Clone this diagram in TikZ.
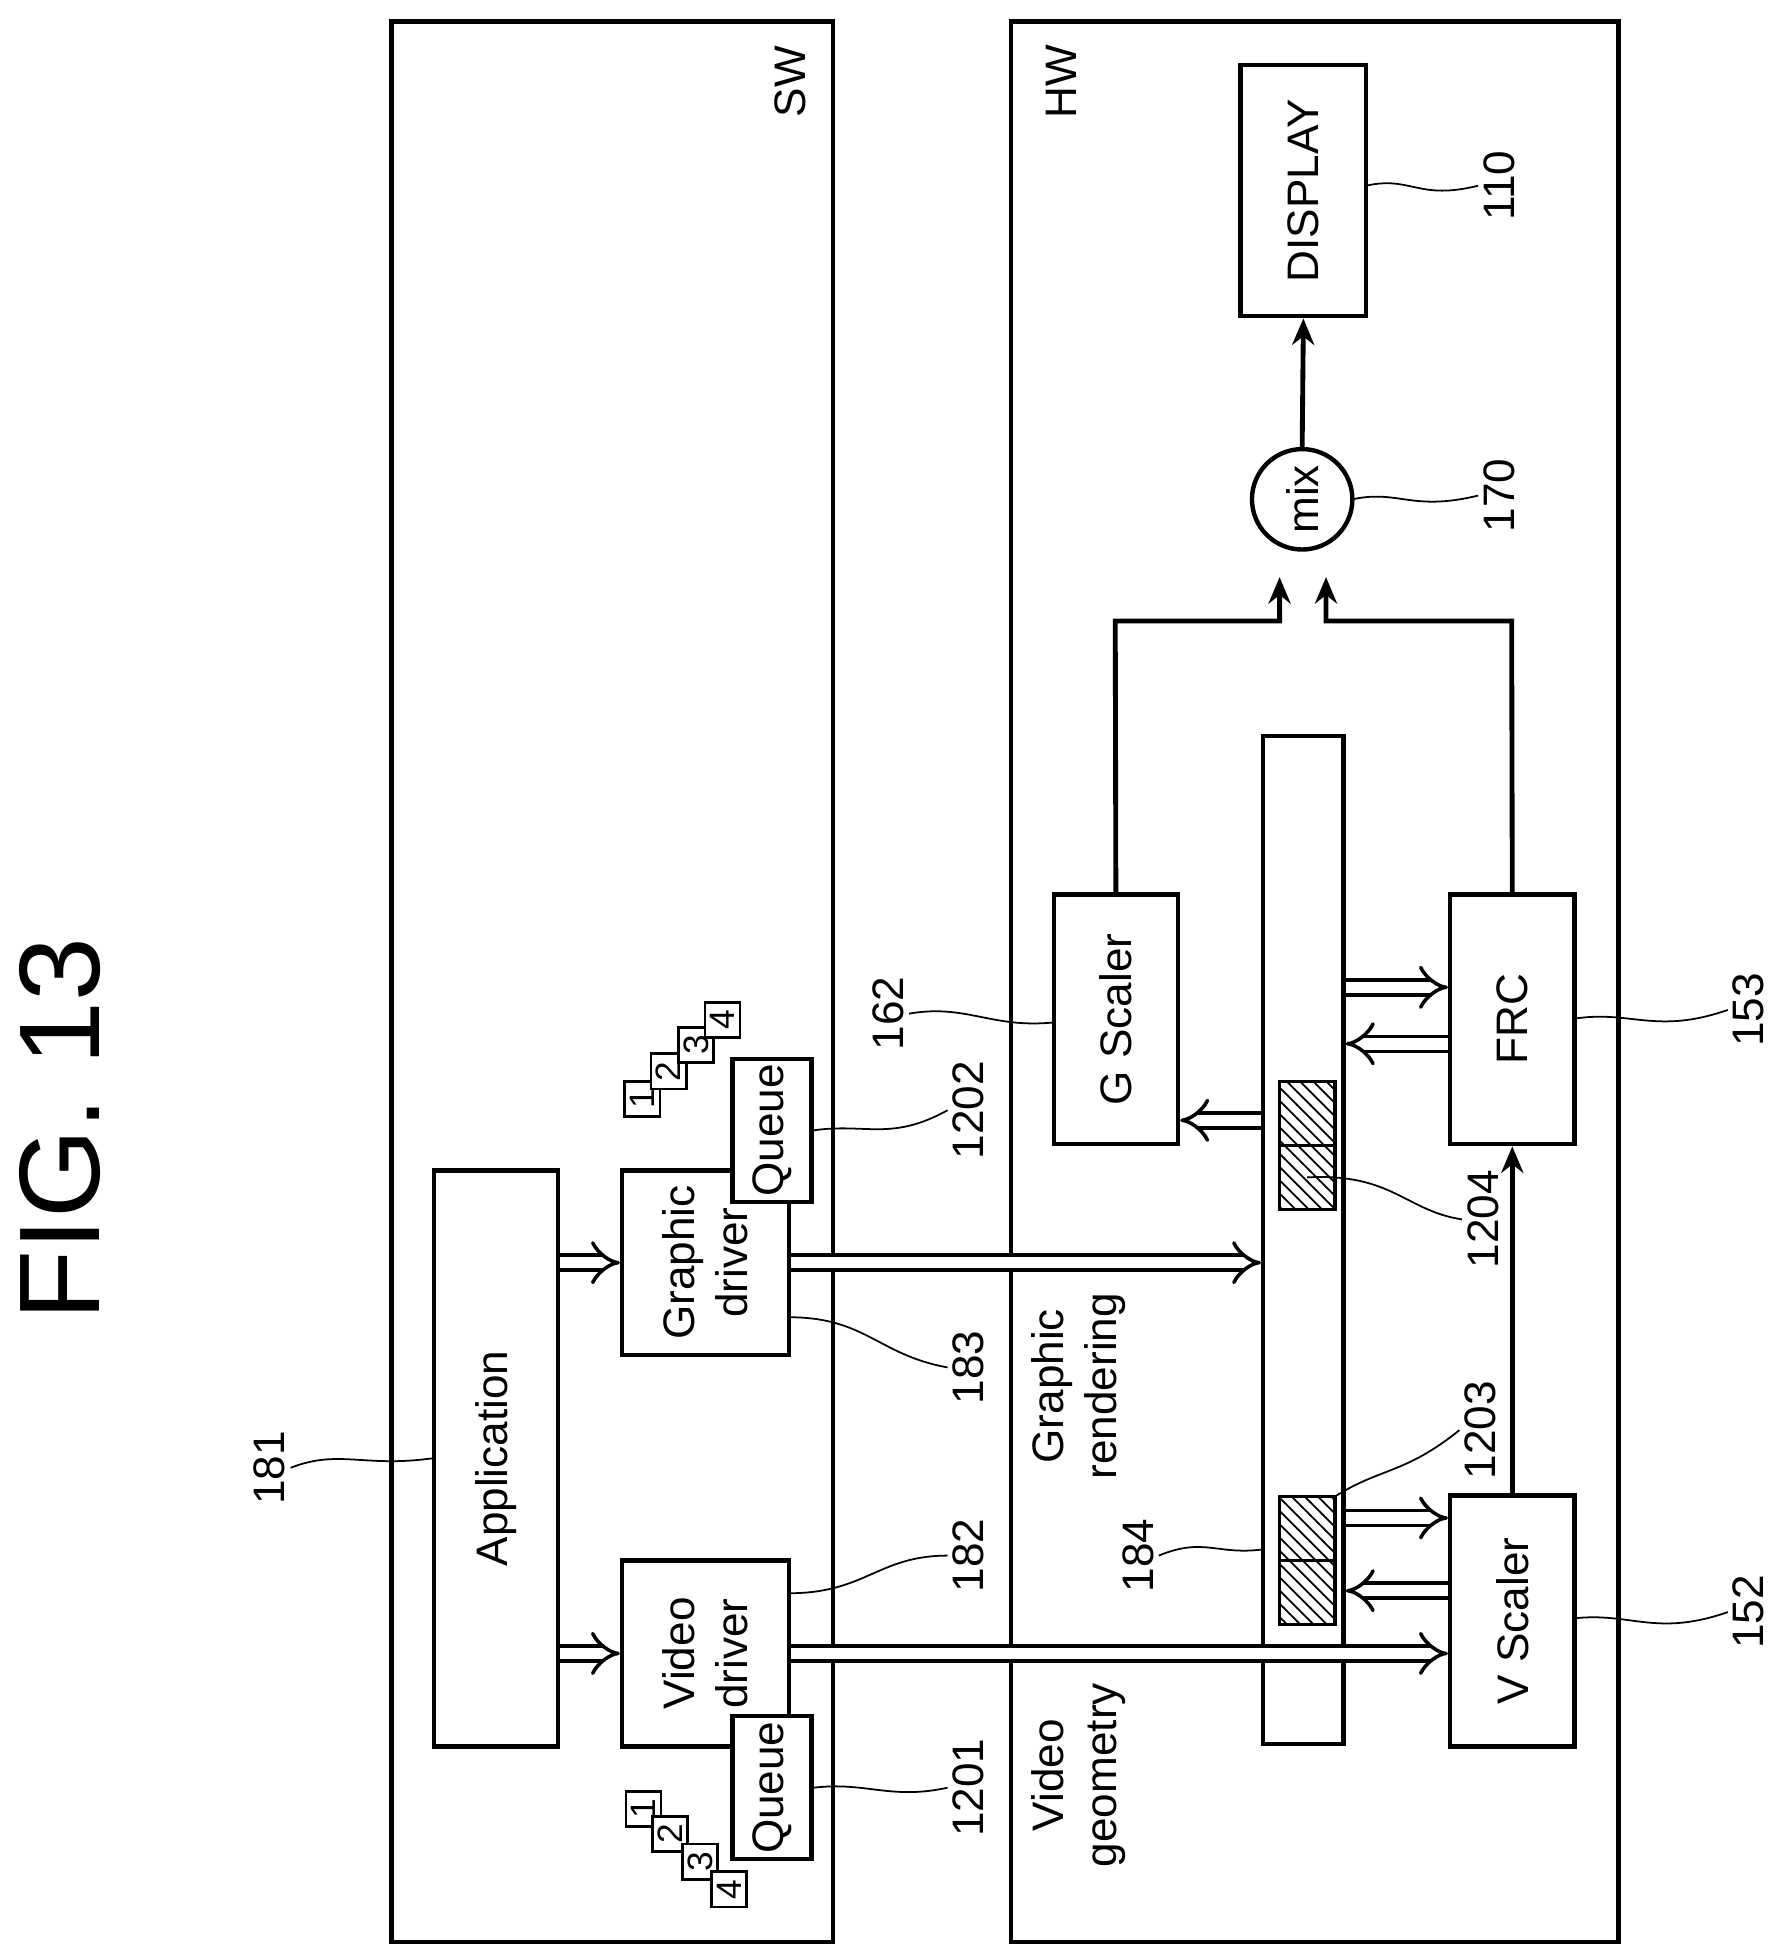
\documentclass[tikz,border=0pt]{standalone}
\usepackage{fontspec}
\setmainfont{Liberation Sans}
\usetikzlibrary{arrows.meta,patterns,calc}
\tikzstyle{box}   = [draw, line width=1pt, fill=white, inner sep=0pt, rotate=90, align=center, font=\fontsize{10}{12}\selectfont]
\tikzstyle{num}   = [draw, line width=0.6pt, fill=white, inner sep=0pt, minimum size=0.28cm, rotate=90, font=\fontsize{8}{9}\selectfont]
\tikzstyle{buf}   = [draw, line width=0.8pt, pattern=north west lines, minimum width=0.51cm, minimum height=0.44cm, rotate=90]
\tikzstyle{lbl}   = [rotate=90, inner sep=1pt, font=\fontsize{10}{12}\selectfont]
\tikzstyle{lead}  = [line width=0.4pt]
\tikzstyle{dbl}   = [double, double distance=2.6pt, line width=0.8pt, -{Implies}]
\tikzstyle{arrow} = [line width=1.1pt, -{Stealth[length=6pt,width=5pt]}]
\begin{document}
\begin{tikzpicture}[x=0.01cm, y=-0.01cm]
	\useasboundingbox (0,0) rectangle (1414,1556);
	% frames
	\draw[line width=1pt] (312,17) rectangle (664,1548);
	\draw[line width=1pt] (806,17) rectangle (1290,1548);
	\node[lbl] (sw) at (630,65) {SW};
	\node[lbl] (hw) at (846,65) {HW};
	\node[rotate=90, font=\fontsize{26}{30}\selectfont] (fig) at (48,900) {FIG. 13};
	% hardware blocks
	\node[box, minimum width=2.0cm, minimum height=1.0cm] (disp) at (1039,152) {DISPLAY};
	\node[draw, circle, line width=1pt, minimum size=0.8cm, inner sep=0pt, rotate=90, font=\fontsize{10}{12}\selectfont] (mix) at (1038,398) {mix};
	\node[box, minimum width=1.99cm, minimum height=0.99cm] (gsc) at (889.5,812.5) {G Scaler};
	\node[box, minimum width=1.99cm, minimum height=0.99cm] (frc) at (1205.5,812.5) {FRC};
	\node[box, minimum width=2.0cm, minimum height=0.99cm] (vsc) at (1205.5,1292) {V Scaler};
	\node[box, minimum width=8.03cm, minimum height=0.64cm] (bar) at (1039,988.5) {};
	\node[buf] (bufa) at (1042,887.5) {};
	\node[buf] (bufb) at (1042,938.5) {};
	\node[buf] (bufc) at (1042,1218.5) {};
	\node[buf] (bufd) at (1042,1269.5) {};
	% software blocks
	\node[box, minimum width=4.59cm, minimum height=0.99cm] (app) at (395.5,1162.5) {Application};
	\node[box, minimum width=1.47cm, minimum height=1.33cm] (gdrv) at (562.5,1006.5) {Graphic\\driver};
	\node[box, minimum width=1.48cm, minimum height=1.33cm] (vdrv) at (562.5,1318) {Video\\driver};
	\node[box, minimum width=1.14cm, minimum height=0.63cm] (gq) at (615.5,901) {Queue};
	\node[box, minimum width=1.14cm, minimum height=0.63cm] (vq) at (615.5,1425) {Queue};
	\node[num] (g1) at (512,876) {1};
	\node[num] (g2) at (533,854) {2};
	\node[num] (g3) at (555,833) {3};
	\node[num] (g4) at (576,813) {4};
	\node[num] (v1) at (513,1442) {1};
	\node[num] (v2) at (534,1462) {2};
	\node[num] (v3) at (558,1484) {3};
	\node[num] (v4) at (581,1506) {4};
	\node[lbl, align=center] (grr) at (860,1105) {Graphic\\rendering};
	\node[lbl, align=center] (vgeo) at (860,1415) {Video\\geometry};
	% wide arrows
	\coordinate (y787) at (0,787);
	\coordinate (y832) at (0,832);
	\coordinate (y893) at (0,893);
	\coordinate (y1210) at (0,1210);
	\coordinate (y1268) at (0,1268);
	\draw[dbl] (app.south |- gdrv.center) -- (gdrv.north);
	\draw[dbl] (app.south |- vdrv.center) -- (vdrv.north);
	\draw[dbl] (gdrv.south) -- (gdrv.south -| bar.north);
	\draw[dbl] (vdrv.south) -- (vdrv.south -| vsc.north);
	\draw[dbl] (bar.north |- y893) -- (gsc.south |- y893);
	\draw[dbl] (bar.south |- y787) -- (frc.north |- y787);
	\draw[dbl] (frc.north |- y832) -- (bar.south |- y832);
	\draw[dbl] (bar.south |- y1210) -- (vsc.north |- y1210);
	\draw[dbl] (vsc.north |- y1268) -- (bar.south |- y1268);
	% signal arrows
	\coordinate (gup) at (889,495);
	\coordinate (fup) at (1205,495);
	\coordinate (mixg) at (1020,460);
	\coordinate (mixf) at (1057,460);
	\draw[arrow] (vsc.east) -- (frc.west);
	\draw[arrow] (gsc.east) -- (gup) -| (mixg);
	\draw[arrow] (frc.east) -- (fup) -| (mixf);
	\draw[arrow] (mix.east) -- (disp.west);
	% reference numerals
	\node[lbl] (n110) at (1195,148) {110};
	\node[lbl] (n170) at (1195,395) {170};
	\node[lbl] (n153) at (1394,805) {153};
	\node[lbl] (n162) at (708,808) {162};
	\node[lbl] (n1202) at (772,885) {1202};
	\node[lbl] (n1204) at (1182,972) {1204};
	\node[lbl] (n183) at (772,1090) {183};
	\node[lbl] (n181) at (215,1170) {181};
	\node[lbl] (n182) at (772,1240) {182};
	\node[lbl] (n184) at (907,1240) {184};
	\node[lbl] (n1203) at (1180,1140) {1203};
	\node[lbl] (n152) at (1394,1285) {152};
	\node[lbl] (n1201) at (772,1425) {1201};
	\draw[lead] (1089,148) .. controls (1125,140) and (1130,160) .. (n110.north);
	\draw[lead] (1078,398) .. controls (1115,390) and (1125,408) .. (n170.north);
	\draw[lead] (1255,812) .. controls (1300,805) and (1320,825) .. (n153.north);
	\draw[lead] (840,815) .. controls (790,820) and (770,800) .. (n162.south);
	\draw[lead] (gq.south) .. controls (690,895) and (710,910) .. (n1202.north);
	\draw[lead] (bufb.center) .. controls (1110,935) and (1120,965) .. (n1204.north);
	\draw[lead] (629,1050) .. controls (690,1050) and (700,1080) .. (n183.north);
	\draw[lead] (app.north) .. controls (290,1170) and (270,1155) .. (n181.south);
	\draw[lead] (629,1270) .. controls (690,1270) and (700,1240) .. (n182.north);
	\draw[lead] (1007,1235) .. controls (970,1240) and (960,1225) .. (n184.south);
	\draw[lead] (1064,1193) .. controls (1100,1170) and (1120,1175) .. (n1203.north);
	\draw[lead] (1255,1290) .. controls (1300,1285) and (1320,1305) .. (n152.north);
	\draw[lead] (vq.south) .. controls (690,1420) and (710,1435) .. (n1201.north);
\end{tikzpicture}
\end{document}
